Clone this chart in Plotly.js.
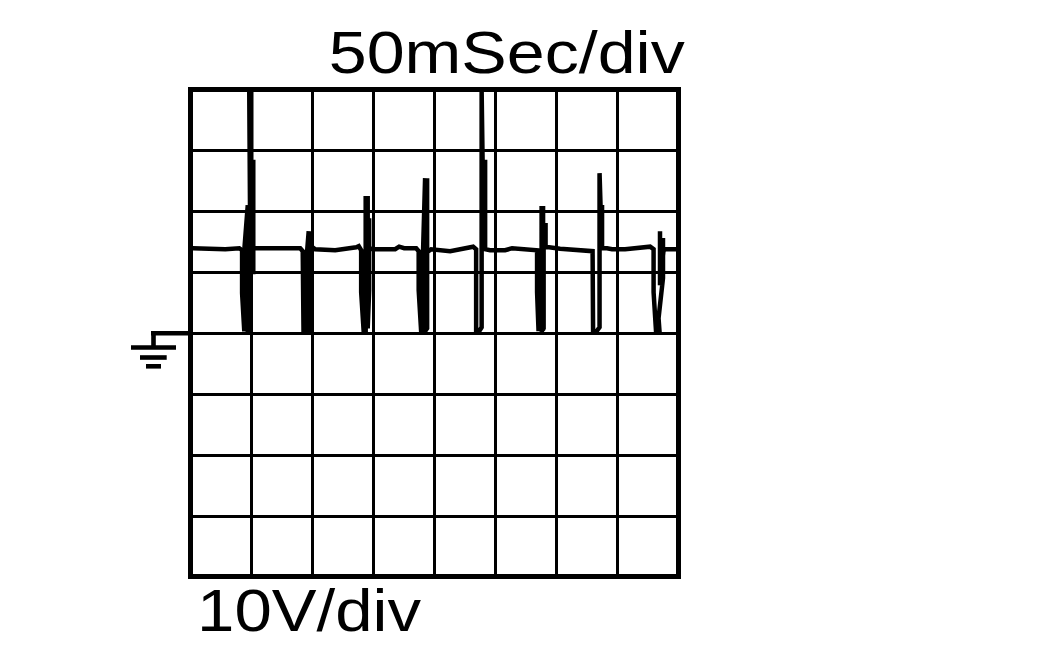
<!DOCTYPE html>
<html><head><meta charset="utf-8">
<script src="https://cdn.plot.ly/plotly-3.0.1.min.js"></script>
<style>html,body{margin:0;padding:0;background:#fff}#c{width:1052px;height:650px}</style>
</head><body><div id="c"></div>
<script>
// Trace: time in divisions (50 ms/div), level in divisions (10 V/div), ground = 0
var timeDiv = [.013,.406,.570,.799,
.845,.845,.881,.881,.938,.938,.979,.979,.962,.995,.995,1.028,1.028,1.028,1.093,1.552,
1.797,1.838,1.851,1.895,1.895,1.936,1.936,1.977,1.977,1.977,2.043,2.370,2.714,
2.755,2.795,2.795,2.836,2.869,2.869,2.902,2.902,2.926,2.926,2.926,2.992,3.352,3.417,3.499,3.696,
3.737,3.737,3.777,3.809,3.809,3.842,3.842,3.875,3.875,3.875,3.941,4.252,4.629,
4.678,4.678,4.727,4.768,4.768,4.784,4.784,4.825,4.825,4.907,5.152,5.267,5.398,5.643,
5.676,5.676,5.700,5.700,5.741,5.741,5.774,5.774,5.750,5.750,5.783,5.783,5.815,5.815,5.873,6.053,6.298,6.511,
6.585,6.593,6.650,6.699,6.699,6.716,6.716,6.740,6.740,6.822,6.904,7.117,7.281,7.527,
7.584,7.584,7.624,7.681,7.665,7.738,7.738,7.689,7.689,7.689,7.747,7.788,7.984];
var levelDiv = [1.404,1.396,1.387,1.404,
1.371,.665,.041,1.371,2.110,.041,.041,1.371,3.982,3.982,2.816,2.816,.977,1.404,1.404,1.404,
1.404,1.355,.041,.041,1.174,1.683,.041,.123,1.683,1.437,1.387,1.371,1.420,
1.437,1.371,.681,.041,.041,2.225,2.225,.090,.714,1.896,1.404,1.387,1.387,1.429,1.404,1.404,
1.355,.714,.041,.041,1.371,2.553,.041,.090,2.553,1.338,1.387,1.355,1.429,
1.387,.041,.041,.107,3.982,3.982,2.816,2.816,1.387,1.371,1.371,1.404,1.396,1.387,
1.371,.681,.041,1.338,1.338,.041,.074,2.061,2.061,.041,.090,1.782,1.782,1.420,1.420,1.396,1.371,1.355,
1.355,.041,.041,.107,2.635,2.635,2.077,2.077,1.404,1.404,1.387,1.387,1.404,1.429,
1.387,.681,.041,.041,.255,.911,1.535,1.535,1.683,.796,1.371,1.387,1.387];
var xLabel = "50mSec/div";
var yLabel = "10V/div";

var data = [{x:timeDiv,y:levelDiv,mode:"lines",line:{color:"#000",width:4.5,shape:"linear"},hoverinfo:"skip"}];
function axis(lo,hi){return {range:[lo,hi],dtick:1,tick0:0,showgrid:true,gridcolor:"#000",gridwidth:3,zeroline:false,showline:true,mirror:true,linecolor:"#000",linewidth:5,ticks:"",showticklabels:false,fixedrange:true};}
var font={family:"Liberation Sans, Arial, sans-serif",size:60,color:"#000"};
var L=193,R=676,T=92,B=574,W=R-L,H=B-T;
function px(x){return (x-L)/W;} function py(y){return 1-(y-T)/H;}
function seg(x0,y0,x1,y1,w){return {type:"line",xref:"paper",yref:"paper",x0:px(x0),y0:py(y0),x1:px(x1),y1:py(y1),line:{color:"#000",width:w},layer:"above"};}
var layout={width:1052,height:650,margin:{l:L,r:1052-R,t:T,b:650-B,pad:0},paper_bgcolor:"#fff",plot_bgcolor:"#fff",showlegend:false,
xaxis:axis(.041,7.951),yaxis:axis(-3.94,3.966),
shapes:[seg(151,333.3,192,333.3,4.6),seg(153.5,331,153.5,346,4.6),seg(131,347.5,176,347.5,4.6),seg(140,357.5,166.7,357.5,4.6),seg(146,366.3,161,366.3,4.6)],
annotations:[
{text:xLabel,xref:"paper",yref:"paper",x:px(349),y:py(87),xanchor:"left",yanchor:"bottom",showarrow:false,font:font,borderpad:0},
{text:yLabel,xref:"paper",yref:"paper",x:px(208),y:py(645),xanchor:"left",yanchor:"bottom",showarrow:false,font:font,borderpad:0}]};
var lengths=[356,224];
Plotly.newPlot("c",data,layout,{staticPlot:true,displayModeBar:false}).then(function(){
  document.querySelectorAll(".annotation-text").forEach(function(t,i){
    t.setAttribute("textLength",lengths[i]);t.setAttribute("lengthAdjust","spacingAndGlyphs");
  });
});
</script></body></html>
